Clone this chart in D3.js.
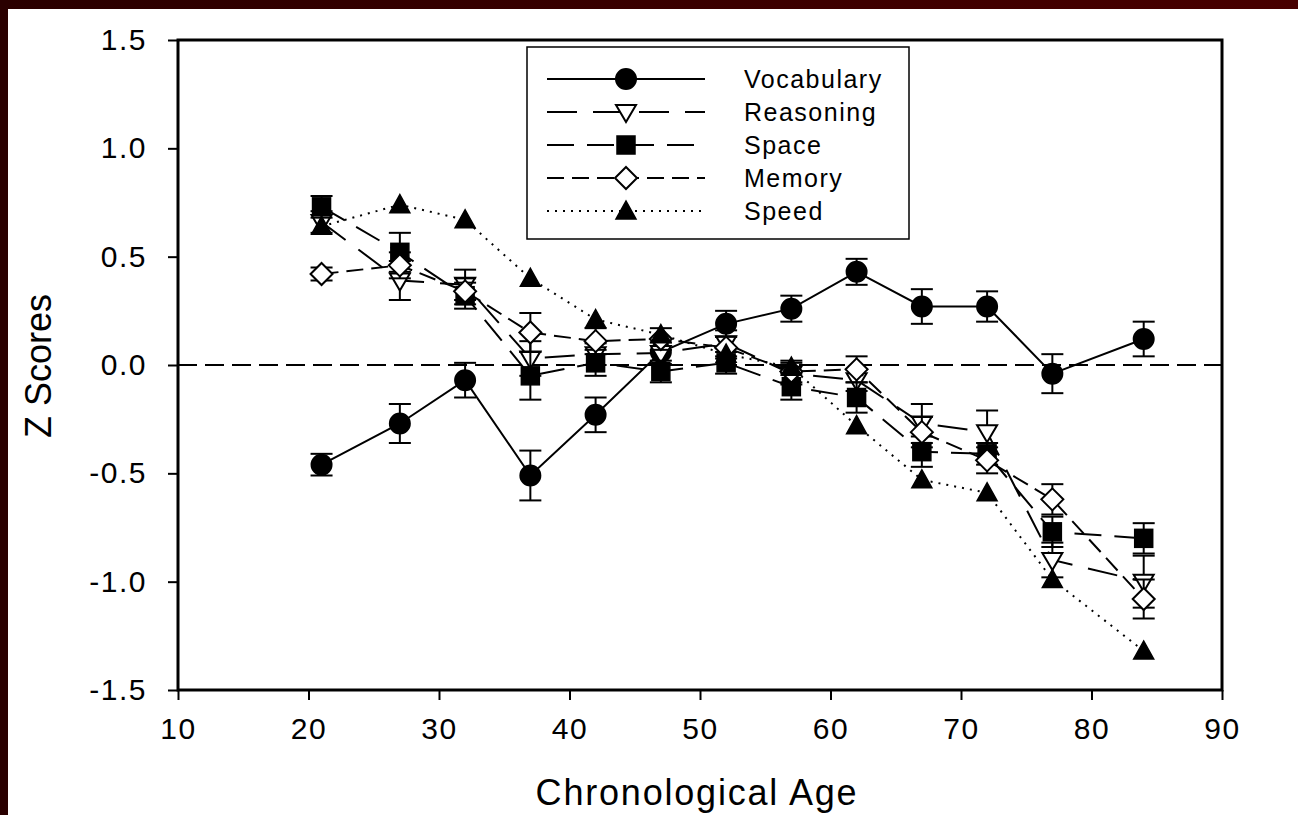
<!DOCTYPE html>
<html>
<head>
<meta charset="utf-8">
<script src="https://cdn.jsdelivr.net/npm/d3@7"></script>
<style>
  body { margin: 0; background: #fff; }
  svg { display: block; }
  text { font-family: "Liberation Sans", Arial, sans-serif; fill: #000; }
</style>
</head>
<body>
<div id="chart"></div>
<script>
// ages on the x axis
const ages = [21, 27, 32, 37, 42, 47, 52, 57, 62, 67, 72, 77, 84];

// z scores per ability
const vocabulary = [-0.46, -0.27, -0.07, -0.51, -0.23, 0.06, 0.19, 0.26, 0.43, 0.27, 0.27, -0.04, 0.12];
const vocabularyErr = [0.05, 0.09, 0.08, 0.115, 0.08, 0.06, 0.06, 0.06, 0.06, 0.08, 0.07, 0.09, 0.08];
const reasoning = [0.66, 0.39, 0.37, 0.03, 0.05, 0.055, 0.10, -0.04, -0.07, -0.27, -0.31, -0.90, -1.00];
const reasoningErr = [0.05, 0.09, 0.07, 0.08, 0.05, 0.05, 0.06, 0.05, 0.05, 0.09, 0.10, 0.08, 0.12];
const space = [0.73, 0.52, 0.32, -0.05, 0.01, -0.03, 0.01, -0.10, -0.15, -0.40, -0.41, -0.77, -0.80];
const spaceErr = [0.05, 0.09, 0.06, 0.11, 0.06, 0.05, 0.05, 0.06, 0.07, 0.07, 0.05, 0.07, 0.07];
const memory = [0.42, 0.46, 0.34, 0.15, 0.11, 0.12, 0.08, -0.03, -0.02, -0.31, -0.44, -0.62, -1.08];
const memoryErr = [0.03, 0.06, 0.06, 0.09, 0.06, 0.05, 0.05, 0.05, 0.06, 0.07, 0.06, 0.07, 0.09];
const speed = [0.64, 0.74, 0.67, 0.40, 0.21, 0.14, 0.05, -0.01, -0.28, -0.53, -0.59, -0.99, -1.32];

const yTicks = [-1.5, -1.0, -0.5, 0.0, 0.5, 1.0, 1.5];
const xTicks = [10, 20, 30, 40, 50, 60, 70, 80, 90];

const series = [
  {name: "Vocabulary", values: vocabulary, err: vocabularyErr, symbol: "circle", fill: "#000", dash: null},
  {name: "Reasoning", values: reasoning, err: reasoningErr, symbol: "tridown", fill: "#fff", dash: "30,16"},
  {name: "Space", values: space, err: spaceErr, symbol: "square", fill: "#000", dash: "27,13"},
  {name: "Memory", values: memory, err: memoryErr, symbol: "diamond", fill: "#fff", dash: "17,8"},
  {name: "Speed", values: speed, err: null, symbol: "triup", fill: "#000", dash: "2,6"}
];

const W = 1298, H = 815;
const svg = d3.select("#chart").append("svg").attr("width", W).attr("height", H);

// maroon frame (top and left)
const grad = svg.append("defs").append("linearGradient").attr("id", "frameGrad")
  .attr("x1", "0%").attr("x2", "100%");
grad.append("stop").attr("offset", "0%").attr("stop-color", "#2a0000");
grad.append("stop").attr("offset", "100%").attr("stop-color", "#480000");
svg.append("rect").attr("x", 0).attr("y", 0).attr("width", W).attr("height", 9).attr("fill", "url(#frameGrad)");
svg.append("rect").attr("x", 0).attr("y", 0).attr("width", 8).attr("height", H).attr("fill", "#2a0000");

const x = d3.scaleLinear().domain([10, 90]).range([178, 1222]);
const y = d3.scaleLinear().domain([-1.5, 1.5]).range([690, 40]);

// axes
const yAxis = svg.append("g").attr("transform", "translate(178,0)")
  .call(d3.axisLeft(y).tickValues(yTicks).tickFormat(d => d.toFixed(1)).tickSize(10).tickPadding(21).tickSizeOuter(0));
const xAxis = svg.append("g").attr("transform", "translate(0,690)")
  .call(d3.axisBottom(x).tickValues(xTicks).tickFormat(d => d).tickSize(10).tickPadding(18).tickSizeOuter(0));
[yAxis, xAxis].forEach(g => {
  g.select(".domain").remove();
  g.selectAll("line").attr("stroke", "#000").attr("stroke-width", 2);
  g.selectAll("text").style("font-size", "30px").style("letter-spacing", "1.5px")
    .style("font-family", "'Liberation Sans', Arial, sans-serif").attr("fill", "#000");
});

// plot frame
svg.append("rect").attr("x", 178).attr("y", 40).attr("width", 1222 - 178).attr("height", 650)
  .attr("fill", "none").attr("stroke", "#000").attr("stroke-width", 3);

// zero reference line
svg.append("line").attr("x1", x(10)).attr("x2", x(90)).attr("y1", y(0)).attr("y2", y(0))
  .attr("stroke", "#000").attr("stroke-width", 2).attr("stroke-dasharray", "19,8");

// axis titles
svg.append("text").attr("x", 697).attr("y", 805).attr("text-anchor", "middle")
  .style("font-size", "36px").style("letter-spacing", "1.8px").text("Chronological Age");
svg.append("text").attr("transform", "translate(51,366) rotate(-90)").attr("text-anchor", "middle")
  .style("font-size", "36px").text("Z Scores");

function drawSymbol(g, kind, fill) {
  if (kind === "circle") {
    g.append("circle").attr("r", 10).attr("fill", fill).attr("stroke", "#000").attr("stroke-width", 2);
  } else if (kind === "square") {
    g.append("rect").attr("x", -9).attr("y", -9).attr("width", 18).attr("height", 18)
      .attr("fill", fill).attr("stroke", "#000").attr("stroke-width", 1.5);
  } else if (kind === "diamond") {
    g.append("path").attr("d", "M0,-11L11,0L0,11L-11,0Z")
      .attr("fill", fill).attr("stroke", "#000").attr("stroke-width", 2);
  } else if (kind === "tridown") {
    g.append("path").attr("d", "M-10,-7L10,-7L0,10Z")
      .attr("fill", fill).attr("stroke", "#000").attr("stroke-width", 2);
  } else if (kind === "triup") {
    g.append("path").attr("d", "M-10,8L10,8L0,-10Z")
      .attr("fill", fill).attr("stroke", "#000").attr("stroke-width", 1.5);
  }
}

const line = d3.line().x(d => x(d.age)).y(d => y(d.v));

series.forEach(s => {
  const pts = ages.map((a, i) => ({age: a, v: s.values[i], e: s.err ? s.err[i] : 0}));
  const g = svg.append("g");
  g.append("path").datum(pts).attr("d", line).attr("fill", "none").attr("stroke", "#000")
    .attr("stroke-width", 2).attr("stroke-dasharray", s.dash);
  if (s.err) {
    const eb = g.selectAll(".eb").data(pts).join("g").attr("class", "eb");
    eb.append("line").attr("x1", d => x(d.age)).attr("x2", d => x(d.age))
      .attr("y1", d => y(d.v - d.e)).attr("y2", d => y(d.v + d.e))
      .attr("stroke", "#000").attr("stroke-width", 2);
    [-1, 1].forEach(sgn => {
      eb.append("line").attr("x1", d => x(d.age) - 11).attr("x2", d => x(d.age) + 11)
        .attr("y1", d => y(d.v + sgn * d.e)).attr("y2", d => y(d.v + sgn * d.e))
        .attr("stroke", "#000").attr("stroke-width", 2);
    });
  }
  g.selectAll(".mk").data(pts).join("g").attr("class", "mk")
    .attr("transform", d => `translate(${x(d.age)},${y(d.v)})`)
    .each(function() { drawSymbol(d3.select(this), s.symbol, s.fill); });
});

// legend
const leg = svg.append("g");
leg.append("rect").attr("x", 527).attr("y", 47).attr("width", 382).attr("height", 192)
  .attr("fill", "#fff").attr("stroke", "#000").attr("stroke-width", 1.5);
series.forEach((s, i) => {
  const ly = 79 + i * 33;
  leg.append("line").attr("x1", 547).attr("x2", 705).attr("y1", ly).attr("y2", ly)
    .attr("stroke", "#000").attr("stroke-width", 2).attr("stroke-dasharray", s.dash);
  const m = leg.append("g").attr("transform", `translate(626,${ly})`);
  drawSymbol(m, s.symbol, s.fill);
  leg.append("text").attr("x", 744).attr("y", ly).attr("dy", "0.35em")
    .style("font-size", "25px").style("letter-spacing", "1.5px").text(s.name);
});
</script>
</body>
</html>
